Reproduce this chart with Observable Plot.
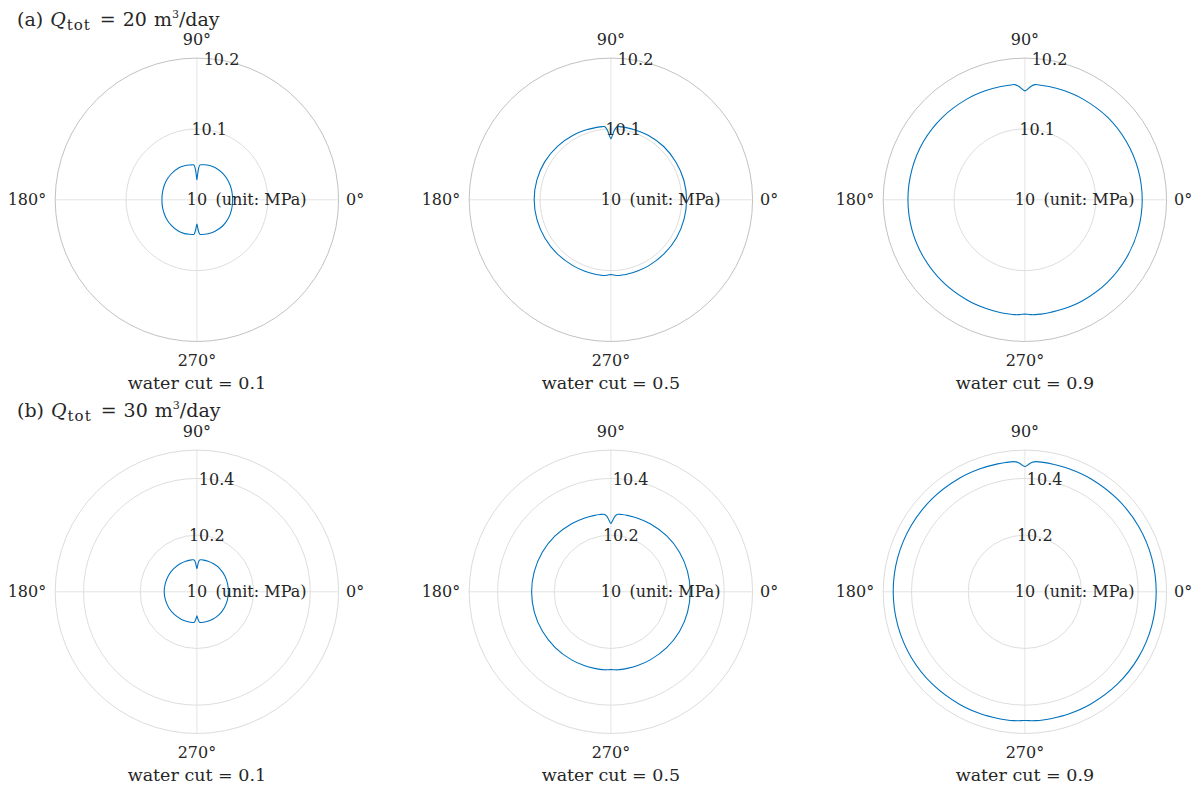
<!DOCTYPE html>
<html><head><meta charset="utf-8">
<script src="https://cdn.jsdelivr.net/npm/d3@7"></script>
<script src="https://cdn.jsdelivr.net/npm/@observablehq/plot@0.6"></script>
<style>
html,body{margin:0;padding:0;background:#fff;overflow:hidden;}
#root{position:relative;width:1201px;height:789px;font-family:"DejaVu Serif",serif;color:#262626;}
#root svg, #root svg text{font-family:"DejaVu Serif",serif !important;}
.panel{position:absolute;}
.title{position:absolute;left:17px;font-size:19px;white-space:nowrap;line-height:20px;z-index:5;font-family:"DejaVu Serif",serif;}
.title span{display:inline-block;}
</style></head><body><div id="root"></div>
<script>
// polar angle (degrees) at which each pressure value is sampled
const angles = [0,15,30,45,60,70,78,82,85,87,88.5,90,91.5,93,95,98,102,110,120,135,150,165,180,195,210,225,240,250,258,262,265,267,268.5,270,271.5,273,275,278,282,290,300,315,330,345];

// water cut of each column
const waterCuts = [0.1, 0.5, 0.9];

// (a) Q_tot = 20 m3/day, pressure (MPa)
const pA01 = [10.0504,10.0508,10.0515,10.0522,10.0522,10.0515,10.0505,10.0500,10.0494,10.0438,10.0353,10.0282,10.0353,10.0438,10.0494,10.0498,10.0502,10.0511,10.0519,10.0515,10.0508,10.0498,10.0494,10.0498,10.0505,10.0511,10.0514,10.0508,10.0498,10.0494,10.0490,10.0445,10.0388,10.0343,10.0388,10.0445,10.0490,10.0494,10.0498,10.0505,10.0512,10.0518,10.0515,10.0508];
const pA05 = [10.1068,10.1066,10.1061,10.1059,10.1052,10.1044,10.1042,10.1040,10.1037,10.0988,10.0917,10.0861,10.0917,10.0988,10.1037,10.1040,10.1042,10.1047,10.1056,10.1067,10.1077,10.1081,10.1083,10.1080,10.1077,10.1075,10.1073,10.1073,10.1073,10.1073,10.1073,10.1066,10.1059,10.1056,10.1059,10.1066,10.1073,10.1073,10.1073,10.1073,10.1073,10.1070,10.1070,10.1068];
const pA09 = [10.1656,10.1654,10.1651,10.1649,10.1641,10.1637,10.1634,10.1633,10.1632,10.1602,10.1564,10.1538,10.1564,10.1602,10.1632,10.1633,10.1634,10.1637,10.1641,10.1647,10.1651,10.1651,10.1651,10.1649,10.1644,10.1640,10.1634,10.1630,10.1629,10.1627,10.1627,10.1623,10.1617,10.1613,10.1617,10.1623,10.1627,10.1629,10.1630,10.1634,10.1640,10.1647,10.1651,10.1654];

// (b) Q_tot = 30 m3/day, pressure (MPa)
const pB01 = [10.1112,10.1119,10.1136,10.1150,10.1150,10.1147,10.1143,10.1140,10.1129,10.1041,10.0917,10.0812,10.0917,10.1041,10.1129,10.1140,10.1143,10.1147,10.1154,10.1157,10.1157,10.1154,10.1154,10.1147,10.1140,10.1129,10.1115,10.1104,10.1097,10.1094,10.1076,10.1006,10.0924,10.0847,10.0924,10.1006,10.1076,10.1094,10.1097,10.1104,10.1115,10.1122,10.1119,10.1115];
const pB05 = [10.2798,10.2798,10.2795,10.2788,10.2773,10.2763,10.2756,10.2752,10.2745,10.2664,10.2523,10.2410,10.2523,10.2664,10.2745,10.2752,10.2756,10.2763,10.2773,10.2788,10.2795,10.2798,10.2798,10.2795,10.2788,10.2781,10.2773,10.2766,10.2763,10.2763,10.2763,10.2756,10.2749,10.2742,10.2749,10.2756,10.2763,10.2763,10.2763,10.2766,10.2773,10.2784,10.2795,10.2798];
const pB09 = [10.4633,10.4633,10.4630,10.4622,10.4619,10.4615,10.4612,10.4612,10.4612,10.4570,10.4488,10.4421,10.4488,10.4570,10.4612,10.4612,10.4615,10.4619,10.4626,10.4637,10.4644,10.4647,10.4647,10.4640,10.4630,10.4612,10.4594,10.4580,10.4570,10.4566,10.4562,10.4555,10.4548,10.4541,10.4548,10.4555,10.4562,10.4566,10.4570,10.4580,10.4594,10.4612,10.4626,10.4633];

const series = [[pA01, pA05, pA09], [pB01, pB05, pB09]];

// radial axis: origin, outer limit, tick values, grid rings
const rOrigin = 10;
const rLimits = [10.2, 10.5];
const rTicks = [[10, 10.1, 10.2], [10, 10.2, 10.4]];
const rGrid = [[10.1], [10.2, 10.4]];
const thetaTickLabels = ["0°", "90°", "180°", "270°"];
const rowLetters = ["(a)", "(b)"];
const rowQ = [20, 30];

const R = 141.7, CX = 196.4, CY = 199.3;
const PW = 414, PH = 392;
const rad = a => a * Math.PI / 180;
const ink = "#262626";
const FF = "DejaVu Serif";

function panel(row, col) {
  const rmax = rLimits[row] - rOrigin;
  const vals = series[row][col];
  const data = angles.map((a, i) => ({a, p: vals[i]}));
  const px = d => (d.p - rOrigin) * Math.cos(rad(d.a));
  const py = d => (d.p - rOrigin) * Math.sin(rad(d.a));
  const tickAngle = rad(80);
  const txt = {fill: ink, fontSize: 16, fontFamily: FF};
  return Plot.plot({
    width: col < 2 ? PW : 1201 - 2 * PW,
    height: PH,
    x: {domain: [-rmax, rmax], range: [CX - R, CX + R], axis: null},
    y: {domain: [-rmax, rmax], range: [CY + R, CY - R], axis: null},
    r: {type: "linear", domain: [0, rmax], range: [0, R]},
    style: {fontFamily: FF, fontSize: "16px", color: ink, background: "transparent", overflow: "visible"},
    marks: [
      Plot.ruleX([0], {y1: -rmax, y2: rmax, stroke: "#e3e3e3", strokeWidth: 1}),
      Plot.ruleY([0], {x1: -rmax, x2: rmax, stroke: "#e3e3e3", strokeWidth: 1}),
      Plot.dot(rGrid[row].filter(t => t < rLimits[row]), {x: 0, y: 0, r: t => t - rOrigin, stroke: "#dedede", fill: "none", strokeWidth: 1}),
      Plot.dot([rLimits[row]], {x: 0, y: 0, r: t => t - rOrigin, stroke: row === 0 ? "#c2c2c2" : "#dcdcdc", fill: "none", strokeWidth: 1}),
      Plot.line(data, {x: px, y: py, curve: "catmull-rom-closed", stroke: "#0072BD", strokeWidth: 1.1}),
      Plot.text(rTicks[row], {x: t => (t - rOrigin) * Math.cos(tickAngle), y: t => (t - rOrigin) * Math.sin(tickAngle), text: t => String(t), ...txt}),
      Plot.text(["(unit: MPa)"], {x: 0, y: 0, dx: 18.5, text: d => d, textAnchor: "start", ...txt}),
      Plot.text([thetaTickLabels[0]], {x: rmax, y: 0, dx: 7.5, text: d => d, textAnchor: "start", ...txt}),
      Plot.text([thetaTickLabels[1]], {x: 0, y: rmax, dy: -18.5, text: d => d, ...txt}),
      Plot.text([thetaTickLabels[2]], {x: -rmax, y: 0, dx: -9, text: d => d, textAnchor: "end", ...txt}),
      Plot.text([thetaTickLabels[3]], {x: 0, y: -rmax, dy: 19.5, text: d => d, ...txt}),
      Plot.text([`water cut = ${waterCuts[col]}`], {x: 0, y: -rmax, dy: 41.5, text: d => d, ...txt, fontSize: 17.5})
    ]
  });
}

const root = document.getElementById("root");
for (let row = 0; row < 2; row++) {
  for (let col = 0; col < 3; col++) {
    const div = document.createElement("div");
    div.className = "panel";
    div.style.left = (col * PW) + "px";
    div.style.top = (row * PH) + "px";
    div.appendChild(panel(row, col));
    root.appendChild(div);
  }
  const t = document.createElement("div");
  t.className = "title";
  t.style.top = (row === 0 ? 8.5 : 400) + "px";
  t.innerHTML = `<span>${rowLetters[row]}</span><span style="margin-left:7px;font-style:italic">Q</span>` +
    `<span style="font-size:15px;letter-spacing:1px;position:relative;top:4px;margin-left:1px">tot</span>` +
    `<span style="margin-left:9px">=</span><span style="margin-left:7px">${rowQ[row]}</span>` +
    `<span style="margin-left:7px">m</span><span style="font-size:11px;position:relative;top:-8px">3</span>` +
    `<span>/day</span>`;
  root.appendChild(t);
}
</script></body></html>
